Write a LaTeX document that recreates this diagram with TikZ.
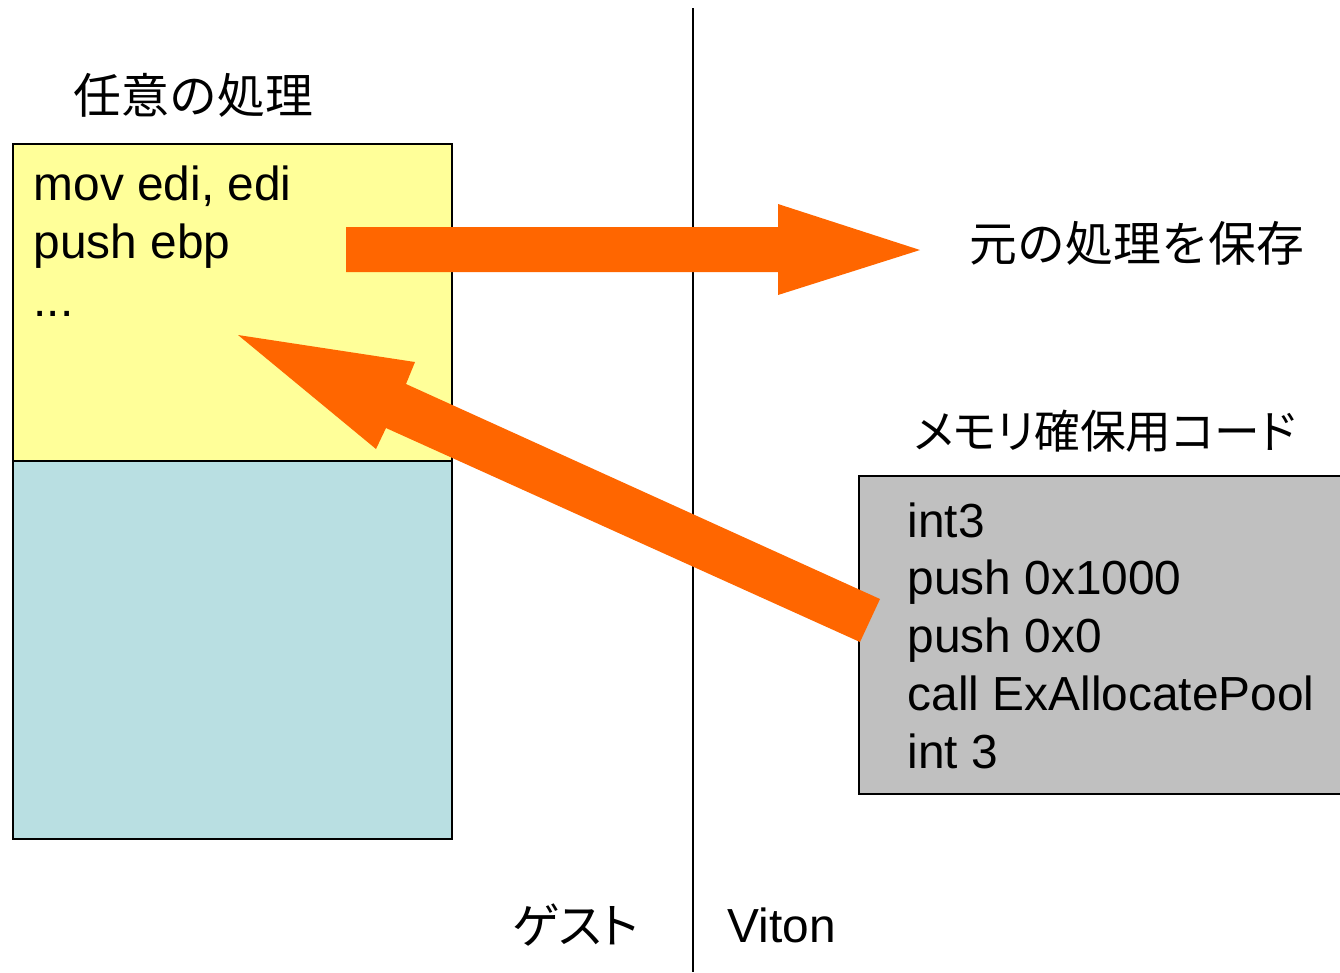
\documentclass[tikz,border=0pt]{standalone}
\usepackage{fontspec}
\setmainfont{Liberation Sans}
\newfontfamily\jpfont{Noto Sans CJK JP}
\newfontfamily\jppfont[RawFeature=+palt]{Noto Sans CJK JP}
\usepackage{tikz}
\usetikzlibrary{positioning}
\definecolor{guestyellow}{HTML}{FFFF99}
\definecolor{guestblue}{HTML}{B9DFE2}
\definecolor{vitongray}{HTML}{C0C0C0}
\definecolor{hookorange}{HTML}{FF6600}
\tikzset{
  txt/.style={anchor=base west,inner sep=0pt,font=\fontsize{13.6pt}{16.5pt}\selectfont},
  membox/.style={draw=black,line width=0.6pt},
  bigarrow/.style={fill=hookorange,draw=none}
}

\begin{document}
\begin{tikzpicture}[x=0.01cm,y=-0.01cm]
\useasboundingbox (0,0) rectangle (1340,972);
% guest / viton boundary
\coordinate (top) at (693,8);
\coordinate (bottom) at (693,972);
\draw [line width=0.6pt] (top) -- (bottom);
% guest memory
\draw [membox,fill=guestblue] (13,461) rectangle (452,839);
\draw [membox,fill=guestyellow] (13,144) rectangle (452,461);
\node[txt] (title) at (73,113) {\jpfont 任意の処理};
\node[txt] (line1) at (33,200) {mov edi, edi};
\node[txt] (line2) at (33,258) {push ebp};
\node[txt] (line3) at (33,316) {...};
% viton side
\draw [membox,fill=vitongray] (859,476) rectangle (1345,794);
\node[txt] (alloc) at (913,448) {\jppfont\fontsize{13pt}{16pt}\selectfont メモリ確保用コード};
\foreach \n/\t [count=\i] in {a/int3,b/push 0x1000,c/push 0x0,d/call ExAllocatePool,e/int 3}
  \node[txt] (code\n) at (907,537+57.75*\i-57.75) {\t};
\node[txt] (save) at (969,261) {\jpfont 元の処理を保存};
\node[txt] (guest) at (512,943) {\jppfont ゲスト};
\node[txt] (viton) at (727,942) {Viton};
% arrows
\fill [bigarrow] (346,227) -- (778,227) -- (778,204) -- (920,250)
  -- (778,295) -- (778,272) -- (346,272) -- cycle;
\fill [bigarrow] (880,599) -- (406,384) -- (415,362) -- (238,335)
  -- (376,449) -- (386,428) -- (860,642) -- cycle;
\end{tikzpicture}
\end{document}
